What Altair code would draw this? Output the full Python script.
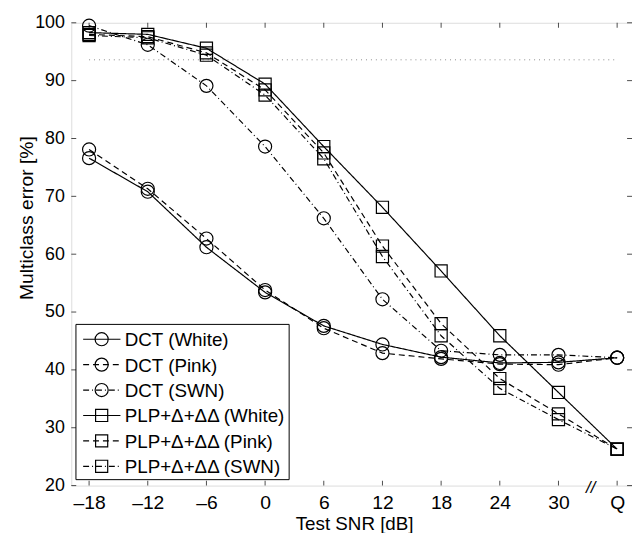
import altair as alt
import pandas as pd

# ---------------- data ----------------
snr = [-18, -12, -6, 0, 6, 12, 18, 24, 30, 36]
snr_labels = ["–18", "–12", "–6", "0", "6", "12", "18", "24", "30", "Q"]
y_ticks = [20, 30, 40, 50, 60, 70, 80, 90, 100]

series_names = ["DCT (White)", "DCT (Pink)", "DCT (SWN)",
                "PLP+Δ+ΔΔ (White)", "PLP+Δ+ΔΔ (Pink)", "PLP+Δ+ΔΔ (SWN)"]
series_marker = ["circle", "circle", "circle", "square", "square", "square"]
series_style = ["solid", "dashed", "dashdot", "solid", "dashed", "dashdot"]

dct_white = [76.6, 70.8, 61.2, 53.4, 47.6, 44.4, 42.2, 41.2, 41.3, 42.1]
dct_pink = [78.1, 71.3, 62.7, 53.8, 47.2, 42.9, 41.9, 41.0, 40.9, 42.1]
dct_swn = [99.5, 96.2, 89.1, 78.6, 66.2, 52.2, 43.3, 42.6, 42.6, 42.1]
plp_white = [98.3, 98.0, 95.6, 89.4, 78.6, 68.1, 57.1, 45.9, 36.1, 26.3]
plp_pink = [98.0, 97.6, 94.8, 88.4, 77.5, 61.4, 48.0, 38.5, 32.4, 26.3]
plp_swn = [97.8, 97.4, 94.4, 87.5, 76.5, 59.6, 45.9, 36.8, 31.4, 26.3]
series_values = [dct_white, dct_pink, dct_swn, plp_white, plp_pink, plp_swn]

chance_level = 93.6
break_at = 33

# ---------------- layout ----------------
X_MIN, X_MAX = -19.82, 37.52
Y_MIN, Y_MAX = 20, 100
W, H = 567, 468
FONT = "Liberation Sans"
LW = 1.2

rows = []
for name, mk, st, vals in zip(series_names, series_marker, series_style, series_values):
    for x, v in zip(snr, vals):
        rows.append({"series": name, "marker": mk, "style": st, "snr": x, "err": v})
df = pd.DataFrame(rows)

xs = alt.Scale(domain=[X_MIN, X_MAX], nice=False, zero=False)
ys = alt.Scale(domain=[Y_MIN, Y_MAX], nice=False, zero=False)

dash_scale = alt.Scale(domain=["solid", "dashed", "dashdot"],
                       range=[[1, 0], [6, 4], [6, 3, 1, 3]])
shape_scale = alt.Scale(domain=["circle", "square"], range=["circle", "square"])

label_expr = "".join(
    f"datum.value == {v} ? '{l}' : " for v, l in zip(snr, snr_labels)) + "''"

x_enc = alt.X("snr:Q", scale=xs,
              axis=alt.Axis(values=snr, labelExpr=label_expr, ticks=False, domain=False,
                            grid=False, labelFontSize=19.5, labelFont=FONT, labelColor="black",
                            labelPadding=8, title="Test SNR [dB]", titleFont=FONT,
                            titleFontSize=19, titleFontWeight="normal", titleColor="black",
                            titleX=286, titleY=44, titleBaseline="alphabetic",
                            titleAlign="center"))
y_enc = alt.Y("err:Q", scale=ys,
              axis=alt.Axis(values=y_ticks, ticks=False, domain=False, grid=False,
                            labelFontSize=18, labelFont=FONT, labelColor="black",
                            labelPadding=7, title="Multiclass error [%]", titleFont=FONT,
                            titleFontSize=19.5, titleFontWeight="normal", titleColor="black",
                            titleX=-45, titleY=197, titleAngle=270, titleAlign="center",
                            titleBaseline="middle"))

base = alt.Chart(df)

lines = base.mark_line(color="black", strokeWidth=LW).encode(
    x=x_enc, y=y_enc,
    detail="series:N",
    strokeDash=alt.StrokeDash("style:N", scale=dash_scale, legend=None),
    order="snr:Q",
)
points = base.mark_point(color="black", filled=False, strokeWidth=LW, opacity=1).encode(
    x="snr:Q", y="err:Q",
    shape=alt.Shape("marker:N", scale=shape_scale, legend=None),
    size=alt.condition("datum.marker == 'circle'", alt.value(175), alt.value(150)),
)

chance = alt.Chart(pd.DataFrame({"a": [0]})).mark_rule(
    color="#8c8c8c", strokeWidth=1, strokeDash=[1, 4]).encode(
    x=alt.datum(snr[0]), x2=alt.datum(snr[-1]), y=alt.datum(chance_level))

# inward ticks on all four sides
TL = 5
xt_df = pd.DataFrame({"t": snr})
yt_df = pd.DataFrame({"t": y_ticks})
tick_bottom = alt.Chart(xt_df).mark_tick(orient="vertical", size=TL, thickness=1,
                                         color="black", yOffset=-TL / 2).encode(
    x="t:Q", y=alt.datum(Y_MIN))
tick_top = alt.Chart(xt_df).mark_tick(orient="vertical", size=TL, thickness=1,
                                      color="black", yOffset=TL / 2).encode(
    x="t:Q", y=alt.datum(Y_MAX))
tick_left = alt.Chart(yt_df).mark_tick(orient="horizontal", size=TL, thickness=1,
                                       color="black", xOffset=TL / 2).encode(
    y="t:Q", x=alt.datum(X_MIN))
tick_right = alt.Chart(yt_df).mark_tick(orient="horizontal", size=TL, thickness=1,
                                        color="black", xOffset=-TL / 2).encode(
    y="t:Q", x=alt.datum(X_MAX))

brk = alt.Chart(pd.DataFrame({"a": [0]})).mark_text(
    text="//", font=FONT, fontSize=17, fontStyle="italic", color="black",
    baseline="middle", dy=2, dx=3).encode(
    x=alt.datum(break_at), y=alt.datum(Y_MIN))

# legend (drawn manually)
LEG_X0, LEG_X1, LEG_Y0, LEG_Y1 = 4.7, 220.3, 305, 462
ROW0, ROWSTEP = 320, 25.7
leg_df = pd.DataFrame({"series": series_names, "marker": series_marker, "style": series_style})
leg_df["ly"] = [ROW0 + i * ROWSTEP for i in range(len(series_names))]

leg_box = alt.Chart(pd.DataFrame({"a": [0]})).mark_rect(
    fill="white", stroke="black", strokeWidth=1).encode(
    x=alt.value(LEG_X0), x2=alt.value(LEG_X1), y=alt.value(LEG_Y0), y2=alt.value(LEG_Y1))
leg_lines = alt.Chart(leg_df).mark_rule(color="black", strokeWidth=LW).encode(
    x=alt.value(12), x2=alt.value(49.7),
    y=alt.Y("ly:Q", scale=None),
    strokeDash=alt.StrokeDash("style:N", scale=dash_scale, legend=None))
leg_pts = alt.Chart(leg_df).mark_point(color="black", filled=False, strokeWidth=LW,
                                        opacity=1).encode(
    x=alt.value(30.7), y=alt.Y("ly:Q", scale=None),
    shape=alt.Shape("marker:N", scale=shape_scale, legend=None),
    size=alt.condition("datum.marker == 'circle'", alt.value(175), alt.value(150)))
leg_txt = alt.Chart(leg_df).mark_text(font=FONT, fontSize=19, color="black", align="left",
                                       baseline="middle", dy=1).encode(
    x=alt.value(54), y=alt.Y("ly:Q", scale=None), text="series:N")

chart = alt.layer(
    chance, lines, points, tick_bottom, tick_top, tick_left, tick_right, brk,
    leg_box, leg_lines, leg_pts, leg_txt
).properties(
    width=W, height=H,
    autosize=alt.AutoSizeParams(type="none"),
    padding={"left": 64, "top": 12, "right": 0, "bottom": 45},
).configure_view(stroke="black", strokeWidth=1).configure(background="white")

chart.save("out.html", embed_options={"renderer": "svg", "actions": False})
